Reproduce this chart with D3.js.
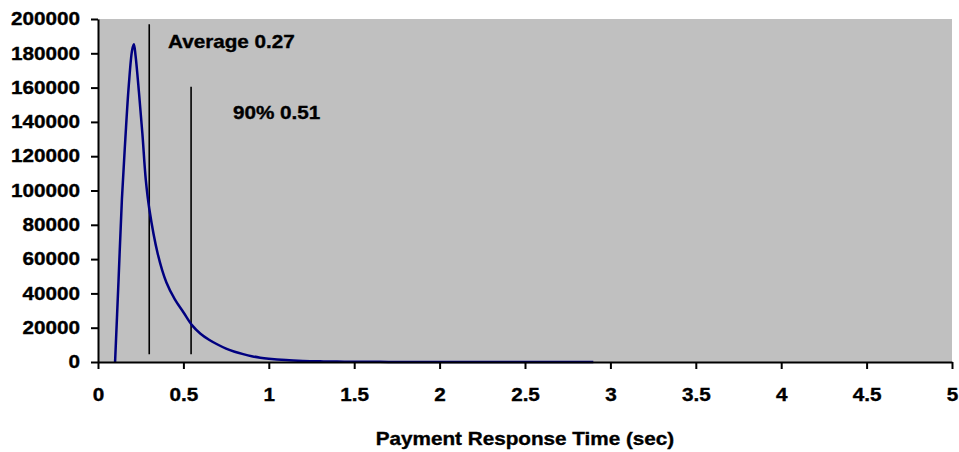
<!DOCTYPE html>
<html>
<head>
<meta charset="utf-8">
<script src="https://cdn.jsdelivr.net/npm/d3@7"></script>
<style>
  html, body { margin: 0; padding: 0; background: #fff; }
  svg { display: block; font-family: "Liberation Sans", Arial, sans-serif; font-weight: bold; }
  .axis path, .axis line { stroke: #000; stroke-width: 2; }
  .axis text, .note { font-size: 18px; fill: #000; font-weight: bold; stroke: #000; stroke-width: 0.35; }
  .curve { fill: none; stroke: #000080; stroke-width: 2.5; }
  .marker { stroke: #000; stroke-width: 1.6; }
</style>
</head>
<body>
<svg class="chart"></svg>
<script>
(function () {
  "use strict";

  // response time (sec) and number of payments
  const times = [0.1, 0.12, 0.14, 0.16, 0.18, 0.2, 0.21, 0.22, 0.24, 0.26, 0.28, 0.3, 0.35, 0.4,
    0.45, 0.5, 0.55, 0.6, 0.65, 0.7, 0.75, 0.8, 0.85, 0.9, 0.95, 1.0, 1.1, 1.2, 1.3, 1.4, 1.5,
    1.6, 1.7, 1.8, 1.9, 2.0, 2.1, 2.2, 2.3, 2.4, 2.5, 2.6, 2.7, 2.8, 2.9];
  const counts = [0, 47000, 95000, 130000, 161000, 182000, 185300, 178500, 157000, 133000, 106000,
    89500, 63000, 46500, 36500, 29000, 21500, 16500, 13000, 10200, 7800, 6000, 4600, 3400, 2500,
    1900, 1100, 650, 400, 250, 150, 100, 70, 50, 35, 25, 20, 16, 13, 11, 9, 8, 7, 6, 5];

  const xTicks = [0, 0.5, 1, 1.5, 2, 2.5, 3, 3.5, 4, 4.5, 5];
  const yTicks = [0, 20000, 40000, 60000, 80000, 100000, 120000, 140000, 160000, 180000, 200000];

  // reference lines: label, x position, top value, label anchor point
  const markers = [
    { label: "Average 0.27", x: 0.3, top: 197000, lx: 0.41, ly: 183000 },
    { label: "90% 0.51", x: 0.545, top: 160500, lx: 0.79, ly: 141500 }
  ];
  const markerBottom = 4500;

  const W = 959, H = 452;
  const margin = { top: 19, right: 7, bottom: 90, left: 98 };
  const width = W - margin.left - margin.right;
  const height = H - margin.top - margin.bottom;
  const stretch = 1.15;

  const data = times.map((t, i) => ({ t: t, n: counts[i] }));

  const svg = d3.select(".chart").attr("width", W).attr("height", H);
  const g = svg.append("g").attr("transform", `translate(${margin.left},${margin.top})`);

  const x = d3.scaleLinear().domain([0, 5]).range([0, width]);
  const y = d3.scaleLinear().domain([0, 200000]).range([height, 0]);

  g.append("rect")
    .attr("width", width)
    .attr("height", height)
    .attr("fill", "#c0c0c0");

  markers.forEach(m => {
    g.append("line")
      .attr("class", "marker")
      .attr("x1", x(m.x)).attr("x2", x(m.x))
      .attr("y1", y(markerBottom)).attr("y2", y(m.top));
    g.append("text")
      .attr("class", "note")
      .attr("transform", `translate(${x(m.lx)},${y(m.ly)}) scale(${stretch},1)`)
      .text(m.label);
  });

  const line = d3.line()
    .x(d => x(d.t))
    .y(d => y(d.n))
    .curve(d3.curveCatmullRom);

  g.append("path")
    .datum(data)
    .attr("class", "curve")
    .attr("d", line);

  const yAxis = g.append("g")
    .attr("class", "axis")
    .call(d3.axisLeft(y).tickValues(yTicks).tickSize(7).tickSizeOuter(0).tickFormat(d3.format("d")));
  yAxis.selectAll("text")
    .attr("x", -18 / stretch)
    .attr("transform", `scale(${stretch},1)`);

  const xAxis = g.append("g")
    .attr("class", "axis")
    .attr("transform", `translate(0,${height})`)
    .call(d3.axisBottom(x).tickValues(xTicks).tickSize(7).tickSizeOuter(0).tickFormat(d3.format("")));
  xAxis.selectAll("text")
    .attr("y", 39.5)
    .attr("dy", 0)
    .attr("transform", `scale(${stretch},1)`);

  g.append("text")
    .attr("class", "note")
    .attr("text-anchor", "middle")
    .attr("transform", `translate(${width / 2},${height + 83}) scale(${stretch},1)`)
    .text("Payment Response Time (sec)");
})();
</script>
</body>
</html>
